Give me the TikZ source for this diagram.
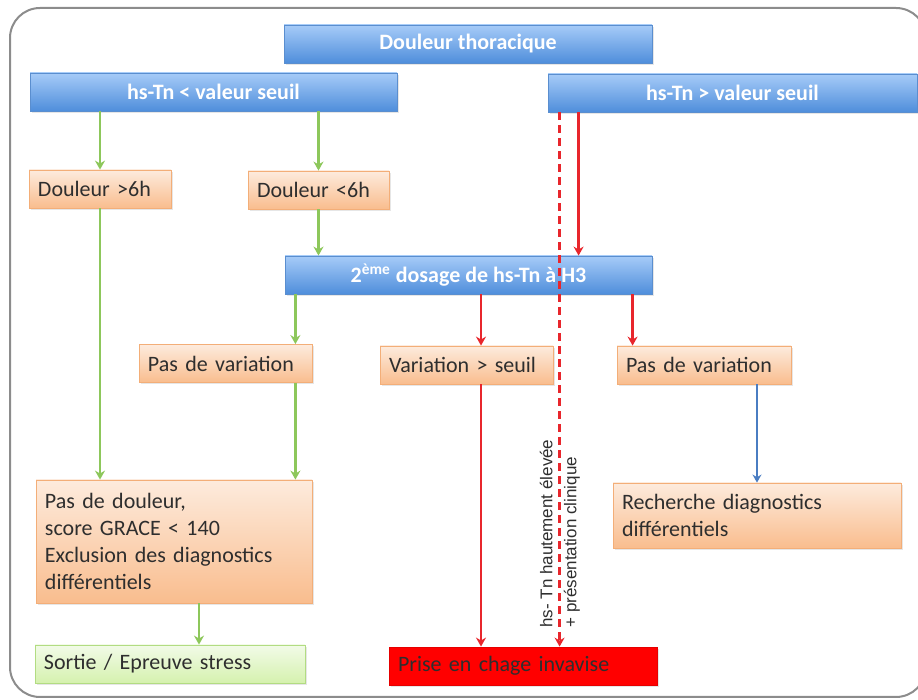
\documentclass[tikz,border=0pt]{standalone}
\usepackage{fontspec}
\setmainfont{Carlito}
\newfontfamily\lblfont{Liberation Sans}
\usepackage{tikz}
\usepackage{xcolor}
\usetikzlibrary{positioning,shadows,arrows.meta}

\definecolor{bluetop}{HTML}{A6CBF8}
\definecolor{bluebot}{HTML}{4F8EDB}
\definecolor{blueline}{HTML}{5A8ECF}
\definecolor{orangetop}{HTML}{FDEBDD}
\definecolor{orangebot}{HTML}{F9BD8E}
\definecolor{orangeline}{HTML}{F3AE78}
\definecolor{greentop}{HTML}{F2FBE8}
\definecolor{greenbot}{HTML}{D5F1AE}
\definecolor{greenline}{HTML}{B2DC82}
\definecolor{arrgreen}{HTML}{8DC75B}
\definecolor{arrred}{HTML}{E8262C}
\definecolor{arrblue}{HTML}{4A7DC2}
\definecolor{framegray}{HTML}{8C8C8C}
\definecolor{txt}{HTML}{2E2E2E}

\begin{document}
\begin{tikzpicture}[x=0.5pt,y=-0.5pt]
\tikzstyle{every node}+=[font=\fontsize{11}{13.5}\selectfont]
\tikzstyle{boxshadow}=[drop shadow={opacity=0.2,shadow xshift=0.8pt,shadow yshift=-0.8pt}]
\tikzstyle{bluebox}=[boxshadow,draw=blueline,top color=bluetop,bottom color=bluebot,text=white,font=\fontsize{11}{13.5}\selectfont\bfseries,minimum height=19pt,inner sep=0pt]
\tikzstyle{orangebox}=[boxshadow,draw=orangeline,top color=orangetop,bottom color=orangebot,text=txt,align=left,inner xsep=4.5pt,inner ysep=0pt,minimum height=19pt]
\tikzstyle{greenbox}=[boxshadow,draw=greenline,top color=greentop,bottom color=greenbot,text=txt,align=left,inner xsep=4.5pt,inner ysep=0pt,minimum height=19pt]
\tikzstyle{redbox}=[boxshadow,draw=red!90!black,fill=red,text=txt,align=left,inner xsep=4.5pt,inner ysep=0pt,minimum height=19pt]
\tikzstyle{gline}=[draw=arrgreen,line width=1.2pt,-{Stealth[length=4.5pt,width=5pt]}]
\tikzstyle{rline}=[draw=arrred,line width=1.2pt,-{Stealth[length=4.5pt,width=5pt]}]
\tikzstyle{bline}=[draw=arrblue,line width=0.8pt,-{Stealth[length=4pt,width=4.5pt]}]
\tikzstyle{rdash}=[rline,dash pattern=on 4pt off 2.5pt]
\useasboundingbox (0,0) rectangle (918,700);
\draw [framegray,line width=1pt,rounded corners=15pt] (10,8) rectangle (926,697);
\node [bluebox,minimum width=184pt] (dt) at (468,44) {Douleur thoracique};
\node [bluebox,minimum width=183.5pt] (lo) at (213.5,92) {hs-Tn < valeur seuil};
\node [bluebox,minimum width=184.5pt] (hi) at (732.5,93) {hs-Tn > valeur seuil};
\node [orangebox,text width=62pt] (d6a) at (100,189) {Douleur >6h};
\node [orangebox,text width=61.5pt] (d6b) at (318.5,190) {Douleur <6h};
\node [bluebox,minimum width=183.5pt] (dos) at (468.5,275) {2\textsuperscript{ème} dosage de hs-Tn à H3};
\node [orangebox,text width=77.5pt] (pvl) at (225.5,363.5) {Pas de variation};
\node [orangebox,text width=77.5pt] (vs) at (466.5,365) {Variation > seuil};
\node [orangebox,text width=78pt] (pvr) at (704,365) {Pas de variation};
\node [orangebox,text width=129pt,minimum height=61.5pt] (pdd) at (174,541.5) {Pas de douleur,\\score GRACE < 140\\Exclusion des diagnostics\\différentiels};
\node [orangebox,text width=135pt,minimum height=32.5pt] (rech) at (757,515.5) {Recherche diagnostics\\différentiels};
\node [greenbox,text width=126pt] (sort) at (170,664) {Sortie / Epreuve stress};
\node [redbox,text width=125pt] (prise) at (523,666) {Prise en chage invavise};
\coordinate (pvlin) at ([xshift=-8.5pt]pvl.north east);
\coordinate (pvlout) at ([xshift=-8.5pt]pvl.south east);
\coordinate (pddout) at ([xshift=12.5pt]pdd.south);
\coordinate (hisol) at ([xshift=15.5pt]hi.south west);
\coordinate (hidash) at ([xshift=6pt]hi.south west);
\coordinate (vsin) at ([xshift=7.25pt]vs.north);
\coordinate (vsout) at ([xshift=7.25pt]vs.south);
\coordinate (pvrin) at ([xshift=8pt]pvr.north west);
\draw [gline] (d6a.north |- lo.south) -- (d6a.north);
\draw [gline] (d6b.north |- lo.south) -- (d6b.north);
\draw [gline] (d6a.south) -- (d6a.south |- pdd.north);
\draw [gline] (d6b.south) -- (d6b.south |- dos.north);
\draw [gline] (pvlin |- dos.south) -- (pvlin);
\draw [gline] (pvlout) -- (pvlout |- pdd.north);
\draw [gline] (pddout) -- (pddout |- sort.north);
\draw [rline] (hisol) -- (hisol |- dos.north);
\draw [rdash] (hidash) -- (hidash |- prise.north);
\draw [rline] (vsin |- dos.south) -- (vsin);
\draw [rline] (vsout) -- (vsout |- prise.north);
\draw [rline] (pvrin |- dos.south) -- (pvrin);
\draw [bline] (rech.north |- pvr.south) -- (rech.north);
\node [rotate=90,anchor=west,align=left,inner sep=0pt,text=txt,font=\lblfont\fontsize{8.5}{12}\selectfont] (lbl) at (560,628) {hs- Tn hautement élevée\\+ présentation clinique};
\end{tikzpicture}
\end{document}
